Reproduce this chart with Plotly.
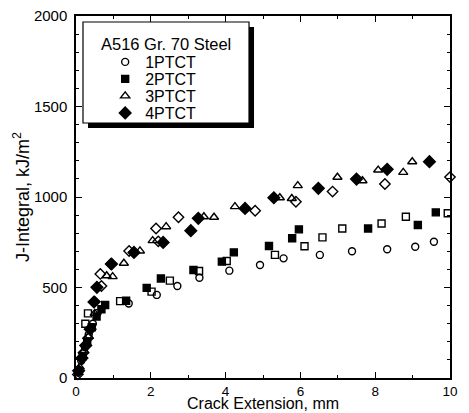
import plotly.graph_objects as go

# J-R curve data for A516 Gr. 70 steel: crack extension (mm) vs J-integral (kJ/m^2)
x_1ptct = [0.05, 0.14, 0.24, 0.34, 0.45, 0.58, 1.41, 2.16, 2.71, 3.30, 4.10, 4.92, 5.55, 6.52, 7.38, 8.32, 9.07, 9.57]
j_1ptct = [30, 95, 170, 240, 300, 360, 412, 459, 508, 554, 593, 624, 661, 680, 700, 711, 725, 753]

x_2ptct = [0.08, 0.18, 0.30, 0.42, 0.55, 0.68, 0.78, 1.34, 1.89, 2.27, 3.14, 3.90, 4.22, 5.16, 5.78, 5.96, 7.81, 9.14, 9.62]
j_2ptct = [40, 120, 200, 280, 340, 380, 403, 427, 498, 550, 597, 643, 694, 729, 772, 821, 826, 845, 915]

x_3ptct = [0.10, 0.22, 0.34, 0.50, 0.82, 0.98, 1.28, 1.71, 2.05, 2.41, 3.42, 3.69, 4.25, 5.45, 5.77, 5.93, 6.99, 7.66, 8.08, 8.75, 8.99]
j_3ptct = [60, 150, 230, 357, 565, 560, 634, 702, 759, 836, 891, 888, 947, 996, 992, 1063, 1109, 1090, 1149, 1136, 1195]

x_4ptct = [0.07, 0.16, 0.26, 0.38, 0.48, 0.56, 0.95, 1.55, 2.33, 3.07, 3.27, 4.52, 5.29, 6.48, 7.50, 8.32, 9.45]
j_4ptct = [40, 110, 180, 270, 420, 501, 630, 694, 749, 814, 882, 937, 996, 1048, 1099, 1153, 1195]

# repeat specimens (open squares / open diamonds)
x_2ptct_b = [0.25, 0.32, 1.18, 2.02, 2.51, 3.29, 4.03, 5.32, 6.11, 6.59, 7.12, 8.17, 8.82, 9.94]
j_2ptct_b = [300, 357, 425, 477, 538, 591, 646, 680, 728, 777, 826, 854, 891, 910]

x_4ptct_b = [0.05, 0.20, 0.32, 0.50, 0.65, 0.68, 0.93, 1.42, 2.14, 2.20, 2.74, 4.79, 5.88, 6.86, 8.26, 10.0]
j_4ptct_b = [20, 140, 220, 422, 575, 508, 630, 702, 826, 755, 888, 924, 974, 1030, 1072, 1110]

legend_title = "A516 Gr. 70 Steel"
x_title = "Crack Extension, mm"
y_title = "J-Integral, kJ/m<sup>2</sup>"

FONT = "Liberation Sans, Arial, sans-serif"

fig = go.Figure()

def add(xs, ys, name, symbol, size, legend=None):
    fig.add_trace(go.Scatter(
        x=xs, y=ys, mode="markers", name=name,
        showlegend=legend is not None, legend=legend or "legend",
        marker=dict(symbol=symbol, size=size, color="black",
                    line=dict(color="black", width=1.4)),
        cliponaxis=False,
    ))

add(x_1ptct, j_1ptct, "1PTCT", "circle-open", 7, "legend")
add(x_2ptct, j_2ptct, "2PTCT", "square", 7, "legend2")
add(x_3ptct, j_3ptct, "3PTCT", "triangle-up-open", 8, "legend3")
add(x_4ptct, j_4ptct, "4PTCT", "diamond", 9, "legend4")
add(x_2ptct_b, j_2ptct_b, "2PTCT-B", "square-open", 7)
add(x_4ptct_b, j_4ptct_b, "4PTCT-B", "diamond-open", 8)

axis_common = dict(
    showline=True, linecolor="black", linewidth=1.5, mirror="allticks",
    ticks="inside", ticklen=6, tickwidth=1, tickcolor="black",
    showgrid=False, zeroline=False, automargin=False,
)

fig.update_xaxes(
    range=[0, 10], dtick=2, tick0=0, ticklabelstandoff=0,
    tickfont=dict(family=FONT, size=13.5, color="black"),
    minor=dict(ticks="inside", ticklen=3, dtick=1, tickcolor="black"),
    **axis_common,
)
fig.update_yaxes(
    range=[0, 2000], dtick=500, tick0=0, ticklabelstandoff=4,
    tickfont=dict(family=FONT, size=15, color="black"),
    minor=dict(ticks="inside", ticklen=3, dtick=100, tickcolor="black"),
    title=dict(text=y_title, font=dict(family=FONT, size=18, color="black"), standoff=0),
    **axis_common,
)

# x-axis title, set flush with the bottom edge of the figure
fig.add_annotation(text=x_title, xref="paper", yref="paper",
                   x=0.5, y=-35 / 362, xanchor="center", yanchor="bottom",
                   yshift=-1, showarrow=False,
                   font=dict(family=FONT, size=16, color="black"))

# legend frame with drop shadow
fig.add_shape(type="rect", xref="paper", yref="paper",
              x0=0.0321, x1=0.4760, y0=0.6906, y1=0.9696,
              fillcolor="black", line=dict(width=0), layer="above")
fig.add_shape(type="rect", xref="paper", yref="paper",
              x0=0.0187, x1=0.4626, y0=0.7044, y1=0.9834,
              fillcolor="white", line=dict(color="black", width=1.2), layer="above")
fig.add_annotation(text=legend_title, xref="paper", yref="paper",
                   x=0.2406, y=0.9227, xanchor="center", yanchor="middle",
                   showarrow=False, font=dict(family=FONT, size=16.5, color="black"))

# one single-entry legend per specimen size, stacked inside the frame
entry_rows = [62, 79, 96, 113]   # row centres in pixels from the top
plot_top, plot_h = 16, 362
legend_common = dict(x=0.078, xanchor="left", yanchor="middle",
                     bgcolor="rgba(0,0,0,0)", borderwidth=0,
                     font=dict(family=FONT, size=16, color="black"))
legends = {}
for i, row in enumerate(entry_rows):
    key = "legend" if i == 0 else f"legend{i + 1}"
    legends[key] = dict(y=1 - (row - plot_top) / plot_h, **legend_common)

fig.update_layout(
    width=469, height=413,
    margin=dict(l=76, r=19, t=16, b=35),
    paper_bgcolor="white", plot_bgcolor="white",
    showlegend=True,
    **legends,
)

fig.write_html("out.html")
